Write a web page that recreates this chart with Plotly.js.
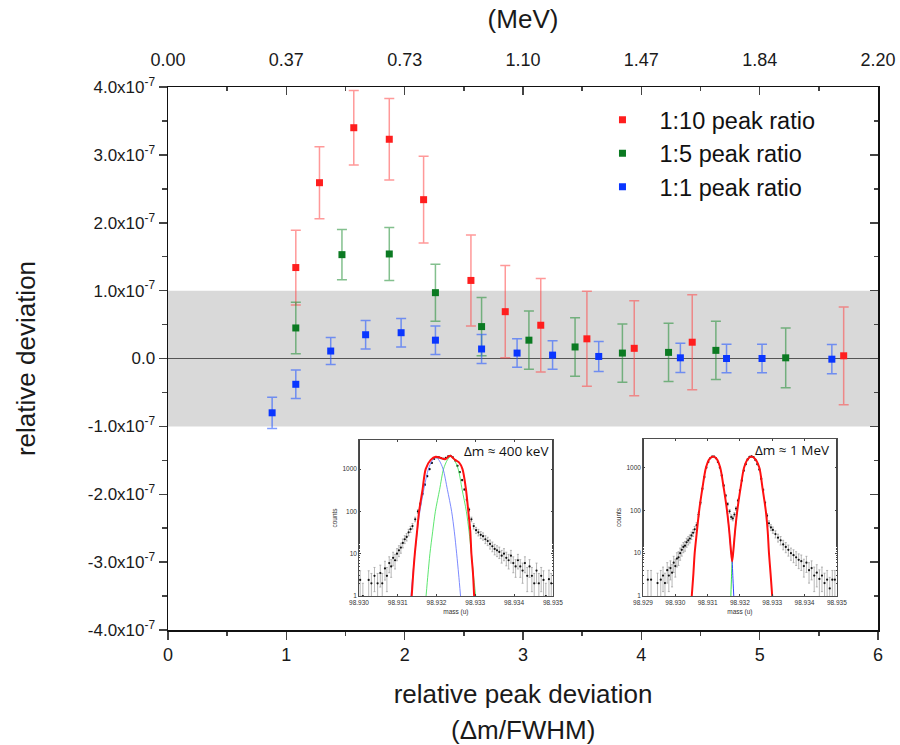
<!DOCTYPE html>
<html>
<head>
<meta charset="utf-8">
<script src="https://cdn.plot.ly/plotly-3.0.1.min.js"></script>
<style>html,body{margin:0;padding:0;background:#fff;}#chart{width:900px;height:745px;}</style>
</head>
<body>
<div id="chart"></div>
<script>
// ---- main data (relative deviation in units of 1e-7) ----
var redX = [1.08, 1.28, 1.57, 1.87, 2.16, 2.56, 2.85, 3.15, 3.54, 3.94, 4.43, 5.71];
var redY = [1.34, 2.59, 3.40, 3.23, 2.34, 1.15, 0.69, 0.49, 0.29, 0.15, 0.24, 0.04];
var redErr = [0.55, 0.53, 0.55, 0.60, 0.64, 0.67, 0.68, 0.69, 0.70, 0.70, 0.70, 0.72];

var greenX = [1.08, 1.47, 1.87, 2.26, 2.65, 3.05, 3.44, 3.84, 4.23, 4.63, 5.22];
var greenY = [0.45, 1.53, 1.54, 0.97, 0.47, 0.27, 0.17, 0.08, 0.09, 0.12, 0.01];
var greenErr = [0.38, 0.37, 0.39, 0.42, 0.43, 0.43, 0.43, 0.43, 0.43, 0.43, 0.44];

var blueX = [0.88, 1.08, 1.375, 1.67, 1.97, 2.26, 2.65, 2.95, 3.25, 3.64, 4.33, 4.72, 5.02, 5.61];
var blueY = [-0.80, -0.38, 0.11, 0.35, 0.38, 0.27, 0.14, 0.08, 0.05, 0.03, 0.01, 0.00, 0.00, -0.01];
var blueErr = [0.23, 0.21, 0.20, 0.21, 0.21, 0.21, 0.215, 0.21, 0.21, 0.22, 0.215, 0.21, 0.21, 0.215];

var seriesNames = ['1:10 peak ratio', '1:5 peak ratio', '1:1 peak ratio'];

var yTickVals = [-4, -3, -2, -1, 0, 1, 2, 3, 4];
var yTickText = ['-4.0x10<sup>-7</sup>', '-3.0x10<sup>-7</sup>', '-2.0x10<sup>-7</sup>', '-1.0x10<sup>-7</sup>', '0.0',
                 '1.0x10<sup>-7</sup>', '2.0x10<sup>-7</sup>', '3.0x10<sup>-7</sup>', '4.0x10<sup>-7</sup>'];
var xTickVals = [0, 1, 2, 3, 4, 5, 6];
var topTickText = ['0.00', '0.37', '0.73', '1.10', '1.47', '1.84', '2.20'];
var bandLimits = [-1, 1];

// ---- inset 1 (Δm ≈ 400 keV) ----
var in1DataM = [98.93003, 98.93010, 98.93025, 98.93032, 98.93040, 98.93048, 98.93055, 98.93060, 98.93067, 98.93072,
  98.93078, 98.93083, 98.93088, 98.93093, 98.93098, 98.93103, 98.93108, 98.93113, 98.93118, 98.93123,
  98.93128, 98.93133, 98.93138, 98.93145, 98.93152, 98.93158, 98.93164, 98.93170, 98.93176, 98.93182,
  98.93188, 98.93194, 98.93200, 98.93206, 98.93212, 98.93218, 98.93224, 98.93230, 98.93236, 98.93242,
  98.93248, 98.93254, 98.93260, 98.93266, 98.93272, 98.93278, 98.93284, 98.93290, 98.93296, 98.93302,
  98.93308, 98.93314, 98.93320, 98.93326, 98.93332, 98.93338, 98.93344, 98.93350, 98.93356, 98.93362,
  98.93368, 98.93374, 98.93380, 98.93386, 98.93392, 98.93398, 98.93404, 98.93410, 98.93416, 98.93422,
  98.93428, 98.93434, 98.93440, 98.93446, 98.93452, 98.93458, 98.93464, 98.93470, 98.93476, 98.93482,
  98.93490, 98.93496];
var in1DataC = [2.4, 1, 2.4, 2, 3, 2, 3.5, 2, 4.5, 3,
  6, 5, 8, 7, 10, 12, 14, 18, 22, 25,
  32, 38, 45, 65, 100, 150, 260, 430, 680, 1000,
  1400, 1750, 1920, 1900, 1820, 1760, 1850, 2000, 2060, 1900,
  1600, 1200, 850, 550, 330, 190, 110, 65, 45, 36,
  32, 28, 26, 22, 20, 17, 15, 13, 12, 11,
  9, 10, 8, 7, 9, 6, 5, 7, 5, 4,
  6, 3, 5, 3, 2, 4, 2, 3, 2.4, 1,
  2.5, 2];
var in1RedM = [98.93136, 98.93140, 98.93144, 98.93150, 98.93155, 98.93164, 98.93172, 98.93185, 98.93198, 98.93210,
  98.93222, 98.93235, 98.93248, 98.93258, 98.93267, 98.93276, 98.93282, 98.93287, 98.93290, 98.93294, 98.93297];
var in1RedC = [1, 3.5, 10, 35, 100, 330, 1000, 1650, 1960, 1850,
  1720, 2075, 1650, 1450, 1000, 330, 100, 35, 10, 3.5, 1];
var in1BlueM = [98.93134, 98.93144, 98.93157, 98.93179, 98.93189, 98.93198, 98.93207, 98.93217, 98.93228, 98.93239,
  98.93246, 98.93252, 98.93257, 98.93262];
var in1BlueC = [1, 10, 100, 1000, 1600, 1900, 1600, 1000, 330, 100, 33, 10, 3.3, 1];
var in1GreenM = [98.93173, 98.93178, 98.93183, 98.93190, 98.93197, 98.93208, 98.93218, 98.93228, 98.93237, 98.93246,
  98.93256, 98.93266, 98.93277, 98.93284, 98.93290, 98.93295, 98.93301];
var in1GreenC = [1, 3.3, 10, 33, 100, 330, 1000, 1650, 2000, 1650, 1000, 330, 100, 33, 10, 3.3, 1];

// ---- inset 2 (Δm ≈ 1 MeV) ----
var in2DataM = [98.92915, 98.92925, 98.92945, 98.92955, 98.92962, 98.92968, 98.92975, 98.92980, 98.92985, 98.92990,
  98.92995, 98.93000, 98.93005, 98.93010, 98.93015, 98.93020, 98.93025, 98.93030, 98.93035, 98.93040,
  98.93045, 98.93050, 98.93055, 98.93060, 98.93066, 98.93072, 98.93078, 98.93084, 98.93090, 98.93096,
  98.93102, 98.93108, 98.93114, 98.93120, 98.93126, 98.93132, 98.93138, 98.93144, 98.93150, 98.93156,
  98.93162, 98.93168, 98.93173, 98.93178, 98.93183, 98.93188, 98.93194, 98.93200, 98.93206, 98.93212,
  98.93218, 98.93224, 98.93230, 98.93236, 98.93242, 98.93248, 98.93254, 98.93260, 98.93266, 98.93272,
  98.93278, 98.93284, 98.93290, 98.93296, 98.93302, 98.93310, 98.93318, 98.93326, 98.93334, 98.93342,
  98.93350, 98.93358, 98.93366, 98.93374, 98.93382, 98.93390, 98.93398, 98.93406, 98.93414, 98.93422,
  98.93430, 98.93438, 98.93446, 98.93454, 98.93462, 98.93470, 98.93478, 98.93486, 98.93494];
var in2DataC = [2.4, 2.4, 2, 2.4, 3, 2, 4, 3, 4.5, 3.5,
  6, 5, 7.5, 8, 10, 12, 14, 15, 18, 20,
  22, 26, 30, 36, 45, 80, 150, 320, 600, 1000,
  1350, 1650, 1800, 1800, 1650, 1350, 1000, 650, 380, 220,
  140, 95, 70, 65, 80, 110, 170, 290, 500, 850,
  1200, 1550, 1780, 1820, 1750, 1500, 1200, 900, 550, 300,
  150, 75, 50, 40, 35, 28, 23, 20, 16, 14,
  12, 10, 9, 8, 7, 6.5, 5, 6, 4, 4.5,
  3, 3.5, 2.5, 3, 2, 2.4, 1.5, 2.4, 2.4];
var in2RedM = [98.93051, 98.93056, 98.93060, 98.93067, 98.93074, 98.93084, 98.93095, 98.93106, 98.93117, 98.93128,
  98.93139, 98.93150, 98.93160, 98.93167, 98.93172, 98.93176, 98.93180, 98.93185, 98.93192, 98.93202,
  98.93213, 98.93225, 98.93236, 98.93247, 98.93260, 98.93270, 98.93280, 98.93286, 98.93290, 98.93295, 98.93300];
var in2RedC = [1, 3.3, 10, 33, 100, 330, 1000, 1600, 1810, 1600,
  1000, 330, 100, 33, 12, 6.4, 12, 33, 100, 330,
  1000, 1600, 1810, 1600, 1000, 330, 100, 33, 10, 3.3, 1];
var in2BlueM = [98.93160, 98.93167, 98.93172, 98.93176, 98.93178, 98.93181];
var in2BlueC = [100, 33, 12, 6.4, 3, 1];
var in2GreenM = [98.93172, 98.93174, 98.93176, 98.93180, 98.93185, 98.93192];
var in2GreenC = [1, 2.8, 6.4, 12, 33, 100];

var FONT = 'Liberation Sans, Arial, sans-serif';

function mainTrace(x, y, e, name, mcol, ecol) {
  return {
    x: x, y: y, name: name, type: 'scatter', mode: 'markers',
    xaxis: 'x', yaxis: 'y',
    marker: {symbol: 'square', size: 7, color: mcol},
    error_y: {type: 'data', array: e, visible: true, color: ecol, thickness: 1.5, width: 5}
  };
}
function sqrtArr(a) { return a.map(function (v) { return Math.sqrt(v); }); }
function insetData(m, c, xa, ya) {
  return {x: m, y: c, type: 'scatter', mode: 'markers', xaxis: xa, yaxis: ya, showlegend: false,
    marker: {size: 2.2, color: '#111'},
    error_y: {type: 'data', array: sqrtArr(c), visible: true, color: '#9a9a9a', thickness: 0.7, width: 1}};
}
function insetLine(m, c, xa, ya, col, w) {
  return {x: m, y: c, type: 'scatter', mode: 'lines', xaxis: xa, yaxis: ya, showlegend: false,
    line: {color: col, width: w, shape: 'spline', smoothing: 0.8}};
}

var traces = [
  mainTrace(redX, redY, redErr, seriesNames[0], '#ff1e1e', 'rgba(255,70,70,0.55)'),
  mainTrace(greenX, greenY, greenErr, seriesNames[1], '#0b7a22', 'rgba(30,140,50,0.55)'),
  mainTrace(blueX, blueY, blueErr, seriesNames[2], '#0a36ff', 'rgba(40,90,255,0.6)'),
  {x: [], y: [], xaxis: 'x2', yaxis: 'y', showlegend: false, type: 'scatter', mode: 'markers'},
  {x: [], y: [], xaxis: 'x', yaxis: 'y2', showlegend: false, type: 'scatter', mode: 'markers'},
  insetData(in1DataM, in1DataC, 'x3', 'y3'),
  insetLine(in1GreenM, in1GreenC, 'x3', 'y3', '#33e04a', 0.8),
  insetLine(in1BlueM, in1BlueC, 'x3', 'y3', '#5a6cff', 0.8),
  insetLine(in1RedM, in1RedC, 'x3', 'y3', '#ff1010', 2),
  insetData(in2DataM, in2DataC, 'x4', 'y4'),
  insetLine(in2GreenM, in2GreenC, 'x4', 'y4', '#33e04a', 1),
  insetLine(in2BlueM, in2BlueC, 'x4', 'y4', '#3344ff', 1),
  insetLine(in2RedM, in2RedC, 'x4', 'y4', '#ff1010', 2)
];

var xTickFont = {family: FONT, size: 18, color: '#1a1a1a'};
var yTickFont = {family: FONT, size: 17, color: '#1a1a1a'};
var titleFont = {family: FONT, size: 26, color: '#1a1a1a'};
var insetTick = {family: FONT, size: 6.5, color: '#333'};
var insetNote = {family: 'Open Sans, sans-serif', size: 13.5, color: '#111'};

function insetX(dom, r, vals, txt) {
  return {domain: dom, range: r, anchor: null, tickvals: vals, ticktext: txt, ticks: 'inside', ticklen: 2,
    showline: true, linecolor: '#222', linewidth: 0.8, mirror: 'allticks', showgrid: false, zeroline: false,
    tickfont: insetTick, title: {text: 'mass (u)', font: insetTick, standoff: 4}, fixedrange: true};
}
function insetY(dom, r) {
  return {domain: dom, range: r, type: 'log', tickvals: [1, 10, 100, 1000], ticktext: ['1', '10', '100', '1000'],
    ticks: 'inside', ticklen: 2, showline: true, linecolor: '#222', linewidth: 0.8, mirror: 'allticks',
    showgrid: false, zeroline: false, tickfont: insetTick, title: {text: 'counts', font: insetTick, standoff: 4},
    minor: {ticks: 'inside', ticklen: 1, tickcolor: '#444', showgrid: false}};
}

var xa3 = insetX([0.269, 0.542], [98.930, 98.935], [98.930, 98.931, 98.932, 98.933, 98.934, 98.935],
  ['98.930', '98.931', '98.932', '98.933', '98.934', '98.935']);
xa3.anchor = 'y3';
var ya3 = insetY([0.0626, 0.350], [0, 3.69]); ya3.anchor = 'x3';
var xa4 = insetX([0.669, 0.942], [98.929, 98.935], [98.929, 98.930, 98.931, 98.932, 98.933, 98.934, 98.935],
  ['98.929', '98.930', '98.931', '98.932', '98.933', '98.934', '98.935']);
xa4.anchor = 'y4';
var ya4 = insetY([0.0626, 0.352], [0, 3.67]); ya4.anchor = 'x4';

var layout = {
  width: 900, height: 745,
  margin: {l: 168, r: 22, t: 87, b: 115},
  paper_bgcolor: '#fff', plot_bgcolor: 'rgba(0,0,0,0)',
  font: {family: FONT, color: '#1a1a1a'},
  showlegend: true,
  legend: {x: 0.588, y: 0.980, xanchor: 'left', yanchor: 'top', bgcolor: 'rgba(0,0,0,0)',
    font: {family: FONT, size: 23.5, color: '#111'}, itemwidth: 64, tracegroupgap: 0},
  xaxis: {domain: [0, 1], range: [0, 6], anchor: 'y', tickvals: xTickVals, ticks: 'outside', ticklen: 8, tickwidth: 1.5,
    minor: {dtick: 0.5, ticks: 'outside', ticklen: 4, tickwidth: 1.5},
    showline: true, linecolor: '#111', linewidth: 1.5, showgrid: false, zeroline: false,
    tickfont: xTickFont, title: {text: 'relative peak deviation', font: titleFont, standoff: 20}},
  xaxis2: {overlaying: 'x', side: 'top', anchor: 'y', range: [0, 6], tickvals: xTickVals, ticktext: topTickText,
    ticks: 'inside', ticklen: 8, tickwidth: 1.5, minor: {dtick: 0.5, ticks: 'inside', ticklen: 4, tickwidth: 1.5},
    ticklabelstandoff: 12,
    showline: true, linecolor: '#111', linewidth: 1.5, showgrid: false, zeroline: false,
    tickfont: xTickFont, title: {text: '(MeV)', font: titleFont, standoff: 14}},
  yaxis: {domain: [0, 1], range: [-4, 4], anchor: 'x', tickvals: yTickVals, ticktext: yTickText,
    ticks: 'outside', ticklen: 8, tickwidth: 1.5, minor: {dtick: 0.5, ticks: 'outside', ticklen: 5, tickwidth: 1.5},
    showline: true, linecolor: '#111', linewidth: 1.5, showgrid: false,
    zeroline: true, zerolinecolor: '#555', zerolinewidth: 1.5,
    tickfont: yTickFont, title: {text: 'relative deviation', font: titleFont, standoff: 44}},
  yaxis2: {overlaying: 'y', side: 'right', anchor: 'x', range: [-4, 4], tickvals: yTickVals, showticklabels: false,
    ticks: 'inside', ticklen: 8, tickwidth: 1.5, minor: {dtick: 0.5, ticks: 'inside', ticklen: 4, tickwidth: 1.5},
    showline: true, linecolor: '#111', linewidth: 1.5, showgrid: false, zeroline: false},
  xaxis3: xa3, yaxis3: ya3, xaxis4: xa4, yaxis4: ya4,
  shapes: [
    {type: 'rect', xref: 'paper', x0: 0, x1: 1, yref: 'y', y0: bandLimits[0], y1: bandLimits[1],
      fillcolor: '#d9d9d9', line: {width: 0}, layer: 'below'}
  ],
  annotations: [
    {text: '(Δm/FWHM)', xref: 'paper', yref: 'paper', x: 0.5, y: -0.184, xanchor: 'center', yanchor: 'middle',
      showarrow: false, font: titleFont},
    {text: 'Δm ≈ 400 keV', xref: 'paper', yref: 'paper', x: 0.477, y: 0.330, xanchor: 'center', yanchor: 'middle',
      showarrow: false, font: insetNote},
    {text: 'Δm ≈ 1 MeV', xref: 'paper', yref: 'paper', x: 0.879, y: 0.332, xanchor: 'center', yanchor: 'middle',
      showarrow: false, font: insetNote}
  ]
};

Plotly.newPlot('chart', traces, layout, {staticPlot: true, displayModeBar: false});
</script>
</body>
</html>
